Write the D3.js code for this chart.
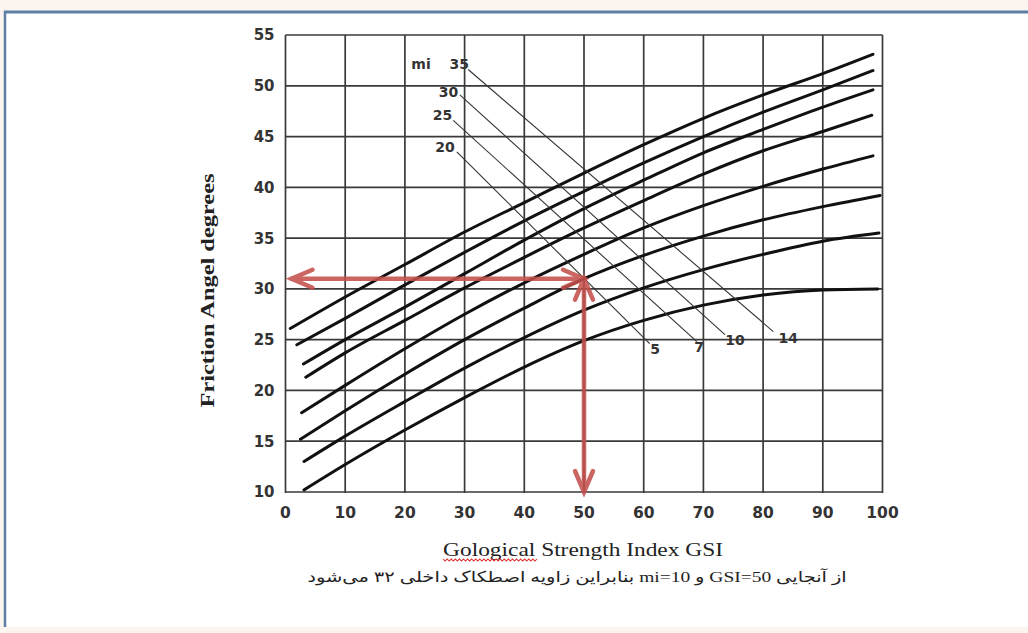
<!DOCTYPE html>
<html>
<head>
<meta charset="utf-8">
<script src="https://cdn.jsdelivr.net/npm/d3@7"></script>
<style>
  html, body { margin: 0; padding: 0; background: #fcf4ef; }
  svg { display: block; }
</style>
</head>
<body>
<svg id="chart" width="1028" height="633"></svg>
<script>
// ---- data -------------------------------------------------------------
const miValues = [35, 30, 25, 20, 14, 10, 7, 5];
const gsiGrid  = [10, 20, 30, 40, 50, 60, 70, 80, 90];
const startGSI = [0.8, 1.9, 3.0, 3.4, 2.7, 2.5, 3.1, 3.1];
const endGSI   = [98.4, 98.4, 98.4, 98.2, 98.4, 99.6, 99.4, 99.2];

// friction angle (deg): [start, GSI 10..90, end]
const phiMi35 = [26.1, 29.2, 32.4, 35.6, 38.5, 41.4, 44.2, 46.8, 49.1, 51.2, 53.1];
const phiMi30 = [24.5, 27.1, 30.4, 33.6, 36.7, 39.6, 42.4, 45.0, 47.4, 49.6, 51.5];
const phiMi25 = [22.6, 25.0, 28.2, 31.5, 34.8, 37.9, 40.7, 43.4, 45.7, 47.9, 49.6];
const phiMi20 = [21.3, 23.7, 26.9, 30.1, 33.1, 36.0, 38.7, 41.3, 43.6, 45.5, 47.1];
const phiMi14 = [17.8, 20.5, 24.1, 27.5, 30.6, 33.4, 36.0, 38.2, 40.1, 41.8, 43.1];
const phiMi10 = [15.2, 18.0, 21.6, 25.0, 28.1, 31.0, 33.3, 35.2, 36.8, 38.1, 39.2];
const phiMi7  = [13.0, 15.5, 18.9, 22.2, 25.2, 27.9, 30.1, 31.9, 33.4, 34.7, 35.5];
const phiMi5  = [10.2, 12.7, 16.1, 19.3, 22.3, 24.9, 26.9, 28.4, 29.4, 29.9, 30.0];
const phiSeries = [phiMi35, phiMi30, phiMi25, phiMi20, phiMi14, phiMi10, phiMi7, phiMi5];

const xTicks = [0, 10, 20, 30, 40, 50, 60, 70, 80, 90, 100];
const yTicks = [10, 15, 20, 25, 30, 35, 40, 45, 50, 55];

// mi labels, placed in chart units (GSI, deg)
const topLabels      = ["35", "30", "25", "20"];
const topLabelGSI    = [29.1, 27.3, 26.3, 26.7];
const topLabelPhi    = [52.1, 49.4, 47.1, 44.0];
const bottomLabels   = ["14", "10", "7", "5"];
const bottomLabelGSI = [84.2, 75.3, 69.3, 61.9];
const bottomLabelPhi = [25.2, 25.0, 24.3, 24.1];
const miHeader       = {text: "mi", gsi: 22.7, phi: 52.1};

// leader lines join each upper label to its partner below
const leaderFromGSI = [30.6, 29.2, 28.1, 28.7];
const leaderFromPhi = [51.6, 49.1, 46.6, 43.5];
const leaderToGSI   = [81.7, 73.6, 68.9, 61.0];
const leaderToPhi   = [25.8, 25.5, 24.8, 24.6];

// worked example: GSI = 50 on the mi = 10 curve
const exampleGSI = 50;
const exampleMi = 10;
const arrowStartGSI = 1;

// ---- drawing ----------------------------------------------------------
const svg = d3.select("#chart");
const W = 1028, H = 633;

// page frame
svg.append("rect").attr("x", 0).attr("y", 0).attr("width", W).attr("height", H).attr("fill", "#fcf4ef");
svg.append("rect").attr("x", 5).attr("y", 12).attr("width", W - 5).attr("height", 615).attr("fill", "#ffffff");
svg.append("line").attr("x1", 4).attr("x2", W).attr("y1", 12).attr("y2", 12)
   .attr("stroke", "#5d7fa6").attr("stroke-width", 3);
svg.append("line").attr("x1", 5).attr("x2", 5).attr("y1", 11).attr("y2", 627)
   .attr("stroke", "#5d7fa6").attr("stroke-width", 2.5);

const x = d3.scaleLinear().domain([0, 100]).range([285.5, 882.5]);
const y = d3.scaleLinear().domain([10, 55]).range([492, 35]);

// grid
const grid = svg.append("g").attr("stroke", "#3a3a3a").attr("stroke-width", 1.7);
grid.selectAll("line.v").data(xTicks).join("line")
  .attr("x1", d => x(d)).attr("x2", d => x(d))
  .attr("y1", y(55)).attr("y2", y(10) + 1);
grid.selectAll("line.h").data(yTicks).join("line")
  .attr("x1", x(0)).attr("x2", x(100))
  .attr("y1", d => y(d)).attr("y2", d => y(d));

// tick labels
const tickFont = "'DejaVu Sans', sans-serif";
svg.append("g").selectAll("text").data(yTicks).join("text")
  .attr("x", x(0) - 11).attr("y", d => y(d)).attr("dy", "0.36em")
  .attr("text-anchor", "end").attr("font-family", tickFont).attr("font-weight", "bold")
  .attr("font-size", 15).attr("fill", "#333").text(d => d);
svg.append("g").selectAll("text").data(xTicks).join("text")
  .attr("x", d => x(d)).attr("y", y(10) + 20).attr("dy", "0.36em")
  .attr("text-anchor", "middle").attr("font-family", tickFont).attr("font-weight", "bold")
  .attr("font-size", 15.5).attr("fill", "#333").text(d => d);

// curves
function curvePoints(i) {
  const phi = phiSeries[i];
  const pts = [[startGSI[i], phi[0]]];
  gsiGrid.forEach((g, k) => pts.push([g, phi[k + 1]]));
  pts.push([endGSI[i], phi[phi.length - 1]]);
  return pts;
}
function phiAt(i, g) {
  const pts = curvePoints(i);
  for (let k = 0; k < pts.length - 1; k++) {
    if (g >= pts[k][0] && g <= pts[k + 1][0]) {
      const t = (g - pts[k][0]) / (pts[k + 1][0] - pts[k][0]);
      return pts[k][1] + t * (pts[k + 1][1] - pts[k][1]);
    }
  }
  return pts[pts.length - 1][1];
}
const line = d3.line().x(d => x(d[0])).y(d => y(d[1])).curve(d3.curveMonotoneX);
svg.append("g").selectAll("path").data(miValues).join("path")
  .attr("d", (d, i) => line(curvePoints(i)))
  .attr("fill", "none").attr("stroke", "#111").attr("stroke-width", 3)
  .attr("stroke-linecap", "round");

// mi leaders and labels
const lab = svg.append("g");
lab.selectAll("line").data(topLabels).join("line")
  .attr("x1", (d, i) => x(leaderFromGSI[i])).attr("y1", (d, i) => y(leaderFromPhi[i]))
  .attr("x2", (d, i) => x(leaderToGSI[i])).attr("y2", (d, i) => y(leaderToPhi[i]))
  .attr("stroke", "#333").attr("stroke-width", 1.1);
function labelSet(texts, gs, ps) {
  lab.append("g").selectAll("text").data(texts).join("text")
    .attr("x", (d, i) => x(gs[i])).attr("y", (d, i) => y(ps[i])).attr("dy", "0.36em")
    .attr("text-anchor", "middle").attr("font-family", tickFont).attr("font-weight", "bold")
    .attr("font-size", 14).attr("fill", "#333").text(d => d);
}
labelSet(topLabels, topLabelGSI, topLabelPhi);
labelSet(bottomLabels, bottomLabelGSI, bottomLabelPhi);
labelSet([miHeader.text], [miHeader.gsi], [miHeader.phi]);

// worked-example arrows
const exPhi = phiAt(miValues.indexOf(exampleMi), exampleGSI);
const arrowColor = "#c4504c";
const arr = svg.append("g").attr("stroke", arrowColor).attr("stroke-width", 4.5)
  .attr("stroke-linecap", "round").attr("fill", "none").attr("opacity", 0.88);
const ex = x(exampleGSI), ey = y(exPhi);
arr.append("line").attr("x1", x(arrowStartGSI)).attr("x2", ex).attr("y1", ey).attr("y2", ey);
arr.append("line").attr("x1", ex).attr("x2", ex).attr("y1", ey).attr("y2", y(10));
function chevron(tx, ty, dx, dy) {
  // dx,dy: unit direction the arrow points to
  const L = 21, w = 9;
  const bx = tx - dx * L, by = ty - dy * L;
  const px = -dy, py = dx;
  arr.append("path").attr("d",
    `M${bx + px * w},${by + py * w}L${tx},${ty}L${bx - px * w},${by - py * w}`);
}
chevron(x(arrowStartGSI), ey, -1, 0);
chevron(ex, ey, 1, 0);
chevron(ex, ey, 0, -1);
chevron(ex, y(10), 0, 1);

// axis titles
svg.append("text")
  .attr("transform", `translate(214,${(y(10) + y(55)) / 2 + 27}) rotate(-90) scale(1,0.78)`)
  .attr("text-anchor", "middle").attr("font-family", "'Liberation Serif', serif")
  .attr("font-weight", "bold").attr("font-size", 24.4).attr("fill", "#222")
  .text("Friction Angel degrees");

const xTitle = svg.append("text")
  .attr("transform", "translate(583,556) scale(1.2,1)")
  .attr("x", 0).attr("y", 0).attr("text-anchor", "middle")
  .attr("font-family", "'Liberation Serif', serif").attr("font-size", 19.5).attr("fill", "#222")
  .text("Gological Strength Index GSI");

// spell-check squiggle under the first word (in the title's own coordinates)
const tnode = xTitle.node();
const sx = tnode.getStartPositionOfChar(0).x;
const sw = tnode.getSubStringLength(0, 9);
let sq = `M${sx},3`;
for (let px = sx, k = 0; px < sx + sw; px += 1.7, k++) sq += `L${px + 1.7},${k % 2 ? 3 : 5}`;
svg.append("path").attr("transform", "translate(583,556) scale(1.2,1)")
  .attr("d", sq).attr("fill", "none").attr("stroke", "#d33").attr("stroke-width", 0.9);

svg.append("text")
  .attr("transform", "translate(577,582) scale(1.3,1)")
  .attr("x", 0).attr("y", 0).attr("text-anchor", "middle").attr("direction", "rtl")
  .attr("font-family", "'Liberation Serif', 'DejaVu Sans', serif").attr("font-size", 15).attr("fill", "#222")
  .text("از آنجایی GSI=50 و mi=10 بنابراین زاویه اصطکاک داخلی ۳۲ می‌شود");
</script>
</body>
</html>
